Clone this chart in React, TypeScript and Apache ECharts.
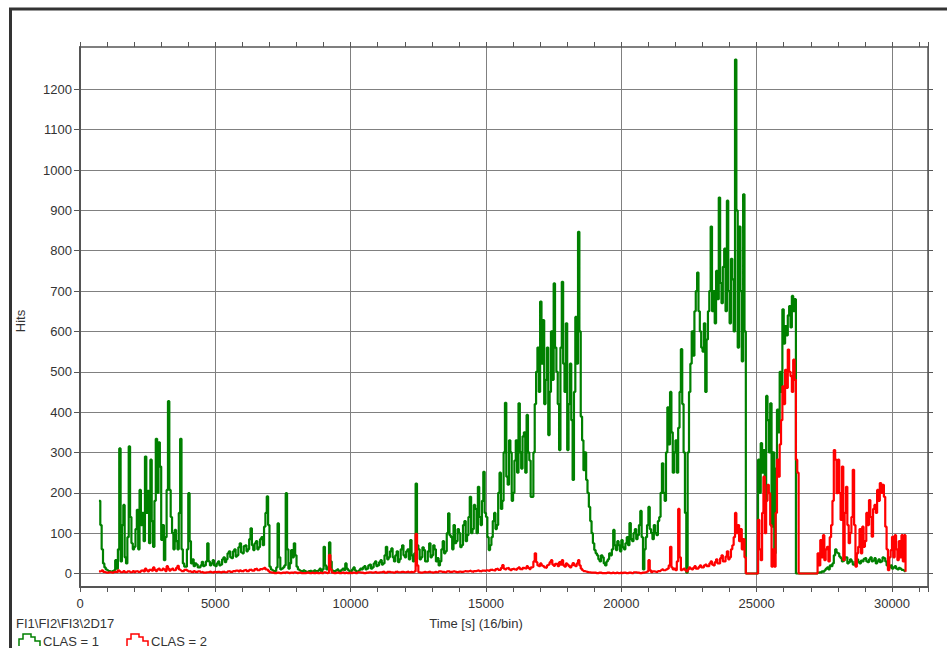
import React, { useEffect, useRef } from "react";
import * as echarts from "echarts";

// Bins: 50 s wide, first bin starts at 700 s
const BIN_START = 700;
const BIN_WIDTH = 50;

// CLAS = 1 (green) hits per bin
const clas1Hits: number[] = [
  // 700-950
  180, 120, 60, 25, 15, 10,
  // 1000s
  8, 6, 5, 4, 6, 8, 33, 12, 60, 310, 30, 120, 170, 40, 25, 90, 315, 140, 75, 60,
  // 2000s
  66, 110, 158, 60, 207, 120, 150, 80, 290, 150, 205, 75, 282, 130, 66, 180, 334, 200, 325, 265,
  // 3000s
  83, 120, 33, 90, 207, 427, 207, 140, 100, 60, 108, 80, 60, 150, 334, 60, 25, 17, 17, 60,
  // 4000s
  199, 80, 25, 35, 18, 25, 22, 15, 15, 20, 29, 18, 20, 30, 75, 30, 20, 25, 33, 20,
  // 5000s
  18, 25, 30, 20, 22, 35, 40, 28, 35, 50, 55, 40, 38, 55, 60, 42, 45, 65, 75, 52,
  // 6000s
  50, 68, 70, 55, 60, 85, 112, 70, 58, 75, 80, 60, 65, 85, 90, 70, 116, 150, 191, 120,
  // 7000s
  17, 10, 8, 6, 6, 15, 124, 40, 10, 12, 15, 20, 199, 60, 12, 25, 58, 40, 75, 45,
  // 8000s
  17, 10, 8, 6, 5, 8, 6, 4, 4, 6, 7, 5, 5, 8, 6, 5, 8, 12, 5, 10,
  // 9000s
  66, 20, 10, 15, 77, 30, 8, 6, 5, 8, 10, 6, 6, 9, 12, 8, 25, 12, 8, 5,
  // 10000s
  6, 10, 15, 8, 5, 6, 8, 12, 10, 15, 18, 10, 12, 20, 22, 12, 15, 25, 30, 18,
  // 11000s
  20, 28, 33, 22, 25, 45, 66, 35, 40, 55, 62, 40, 30, 45, 55, 28, 35, 60, 70, 45,
  // 12000s
  40, 55, 60, 35, 83, 45, 30, 50, 223, 70, 60, 35, 40, 65, 58, 30, 30, 55, 75, 40,
  // 13000s
  45, 70, 60, 30, 38, 20, 30, 60, 80, 50, 55, 100, 149, 95, 90, 60, 120, 75, 80, 110,
  // 14000s
  100, 65, 70, 120, 130, 80, 95, 140, 190, 100, 110, 170, 160, 100, 215, 140, 120, 180, 252, 150,
  // 15000s
  140, 90, 58, 70, 90, 130, 150, 110, 120, 200, 250, 160, 180, 300, 423, 240, 220, 330, 300, 180,
  // 16000s
  200, 280, 330, 250, 422, 300, 260, 340, 350, 250, 393, 300, 280, 190, 190, 300, 420, 500, 560, 450,
  // 17000s
  674, 520, 628, 420, 480, 560, 343, 450, 600, 480, 719, 560, 500, 420, 306, 560, 723, 520, 450, 620,
  // 18000s
  306, 420, 520, 380, 232, 450, 636, 520, 847, 600, 389, 330, 256, 300, 232, 200, 165, 130, 100, 75,
  // 19000s
  58, 50, 45, 35, 30, 45, 40, 25, 20, 30, 35, 50, 45, 60, 108, 70, 58, 80, 70, 55,
  // 20000s
  83, 65, 60, 75, 90, 70, 125, 85, 80, 100, 110, 85, 95, 120, 155, 90, 10, 60, 90, 120,
  // 21000s
  165, 110, 100, 85, 120, 100, 95, 130, 140, 200, 273, 200, 180, 300, 412, 320, 450, 350, 250, 300,
  // 22000s
  330, 250, 361, 450, 556, 420, 300, 150, 2, 300, 450, 520, 600, 540, 650, 700, 746, 650, 600, 560,
  // 23000s
  550, 620, 450, 580, 650, 700, 860, 650, 700, 620, 750, 680, 932, 720, 670, 760, 805, 650, 924, 700,
  // 24000s
  620, 780, 729, 600, 1274, 900, 560, 860, 700, 526, 940, 600, 0, 0, 0, 0, 0, 0, 0, 0,
  // 25000s
  0, 282, 200, 323, 250, 306, 180, 440, 380, 300, 422, 116, 300, 50, 260, 406, 350, 500, 450, 655,
  // 26000s
  570, 613, 590, 640, 663, 610, 688, 650, 680, 0, 0, 0, 0, 0, 0, 0, 0, 0, 0, 0,
  // 27000s
  0, 0, 0, 0, 0, 2, 3, 2, 5, 4, 8, 12, 15, 10, 20, 18, 25, 45, 60, 52,
  // 28000s
  50, 42, 38, 30, 32, 40, 40, 25, 28, 35, 30, 22, 22, 30, 35, 28, 25, 32, 30, 36,
  // 29000s
  38, 30, 28, 35, 40, 30, 32, 38, 25, 30, 35, 28, 30, 40, 38, 30, 20, 18, 15, 20,
  // 30000s
  12, 15, 18, 12, 10, 14, 12, 9, 8, 6, 5,
];

// CLAS = 2 (red) hits per bin
const clas2Hits: number[] = [
  // 700-950
  5, 6, 8, 4, 3, 2,
  // 1000s
  2, 3, 3, 2, 2, 4, 4, 3, 8, 5, 3, 4, 6, 3, 3, 5, 5, 3, 4, 6,
  // 2000s
  3, 5, 6, 4, 4, 7, 8, 5, 12, 8, 5, 9, 10, 7, 15, 9, 6, 10, 12, 8,
  // 3000s
  8, 12, 10, 6, 18, 12, 7, 10, 12, 8, 9, 14, 19, 10, 8, 6, 6, 9, 10, 7,
  // 4000s
  5, 6, 4, 3, 6, 4, 3, 5, 5, 3, 4, 2, 2, 3, 3, 4, 5, 3, 2, 4,
  // 5000s
  3, 4, 4, 3, 2, 4, 5, 3, 3, 5, 6, 4, 4, 6, 5, 7, 7, 5, 8, 6,
  // 6000s
  5, 8, 9, 6, 6, 9, 10, 7, 7, 11, 12, 8, 8, 11, 10, 12, 14, 10, 9, 6,
  // 7000s
  3, 2, 2, 1, 1, 2, 2, 1, 1, 2, 2, 1, 3, 2, 1, 2, 2, 1, 3, 2,
  // 8000s
  1, 2, 2, 1, 1, 1, 1, 2, 2, 1, 1, 2, 1, 1, 2, 1, 1, 2, 1, 1,
  // 9000s
  3, 2, 1, 2, 46, 10, 2, 1, 1, 2, 2, 1, 1, 2, 3, 1, 2, 1, 1, 2,
  // 10000s
  1, 2, 2, 1, 1, 3, 3, 2, 2, 1, 1, 2, 2, 3, 3, 2, 2, 3, 4, 2,
  // 11000s
  2, 3, 3, 4, 5, 2, 2, 4, 4, 3, 3, 2, 2, 4, 5, 3, 3, 4, 4, 3,
  // 12000s
  3, 4, 5, 3, 4, 3, 3, 5, 98, 20, 3, 2, 2, 3, 4, 3, 3, 4, 5, 3,
  // 13000s
  2, 3, 4, 3, 3, 5, 5, 4, 4, 3, 3, 5, 6, 4, 4, 5, 5, 4, 3, 4,
  // 14000s
  5, 4, 4, 5, 6, 5, 5, 6, 7, 5, 4, 6, 6, 7, 8, 6, 5, 7, 7, 6,
  // 15000s
  8, 7, 6, 9, 10, 8, 7, 11, 12, 9, 9, 14, 21, 12, 10, 13, 14, 10, 8, 11,
  // 16000s
  12, 10, 9, 13, 15, 11, 10, 14, 13, 12, 18, 14, 11, 15, 16, 30, 50, 28, 20, 18,
  // 17000s
  25, 20, 18, 15, 14, 20, 22, 28, 33, 22, 19, 24, 24, 18, 28, 22, 33, 20, 17, 25,
  // 18000s
  22, 18, 15, 20, 26, 20, 18, 25, 33, 20, 12, 8, 6, 5, 4, 3, 3, 2, 2, 2,
  // 19000s
  2, 1, 1, 2, 2, 1, 1, 1, 1, 2, 2, 1, 1, 2, 1, 1, 2, 1, 1, 2,
  // 20000s
  1, 2, 2, 1, 1, 2, 2, 1, 1, 3, 3, 2, 2, 1, 1, 2, 2, 3, 3, 5,
  // 21000s
  33, 8, 3, 5, 5, 4, 4, 6, 6, 8, 10, 8, 8, 10, 12, 20, 66, 15, 10, 12,
  // 22000s
  8, 30, 160, 40, 8, 10, 12, 8, 5, 10, 15, 12, 10, 14, 18, 12, 12, 16, 20, 15,
  // 23000s
  15, 20, 22, 18, 18, 25, 30, 22, 20, 28, 35, 25, 25, 38, 45, 30, 30, 42, 55, 35,
  // 24000s
  40, 60, 70, 90, 150, 100, 120, 80, 110, 60, 85, 40, 0, 0, 0, 0, 0, 0, 0, 0,
  // 25000s
  0, 133, 60, 33, 150, 240, 100, 180, 220, 199, 120, 17, 60, 17, 150, 282, 240, 320, 380, 464,
  // 26000s
  420, 505, 460, 555, 500, 489, 450, 530, 480, 282, 250, 0, 0, 0, 0, 0, 0, 0, 0, 0,
  // 27000s
  0, 0, 0, 0, 0, 50, 20, 83, 40, 95, 33, 60, 66, 30, 90, 120, 180, 306, 282, 199,
  // 28000s
  282, 199, 133, 265, 33, 150, 215, 120, 75, 100, 140, 257, 120, 17, 50, 66, 110, 50, 116, 66,
  // 29000s
  80, 150, 120, 182, 140, 91, 160, 170, 150, 207, 180, 224, 200, 220, 190, 116, 60, 8, 40, 58,
  // 30000s
  91, 40, 95, 60, 33, 80, 40, 95, 30, 95, 4,
];

const yTickValues = [0, 100, 200, 300, 400, 500, 600, 700, 800, 900, 1000, 1100, 1200];
const xLabelStep = 5000;
const xMinorStep = 1000;

const seriesNames = ["CLAS = 1", "CLAS = 2"];
const seriesColors = ["#008000", "#ff0000"];

const FONT = '"Liberation Sans", Arial, sans-serif';

export default function App() {
  const ref = useRef<HTMLDivElement>(null);

  useEffect(() => {
    if (!ref.current) return;
    const chart = echarts.init(ref.current, null, { renderer: "svg" });

    const toPairs = (vals: number[]) =>
      vals.map((v, i) => [BIN_START + i * BIN_WIDTH, v]);

    const X_MIN = 0;
    const X_MAX = 31330;
    const Y_MIN = -33.5;
    const Y_MAX = 1305;
    const axisColor = "#555555";
    const gridColor = "#808080";
    const textColor = "#333333";

    const stepIcon = (x0: number, y0: number) => [
      [x0, y0 + 13],
      [x0, y0 + 6],
      [x0 + 4, y0 + 6],
      [x0 + 4, y0 + 1],
      [x0 + 12, y0 + 1],
      [x0 + 12, y0 + 4],
      [x0 + 16, y0 + 4],
      [x0 + 16, y0 + 8],
      [x0 + 21, y0 + 8],
      [x0 + 21, y0 + 13],
    ];

    const option: any = {
      animation: false,
      backgroundColor: "#ffffff",
      grid: {
        left: 80,
        right: 19,
        top: 47,
        bottom: 61,
        containLabel: false,
        outerBoundsMode: "none",
      },
      xAxis: [
        {
          type: "value",
          position: "bottom",
          min: X_MIN,
          max: X_MAX,
          interval: xMinorStep,
          axisLine: { show: true, onZero: false, lineStyle: { color: axisColor, width: 2 } },
          axisTick: { show: true, length: 5, lineStyle: { color: axisColor, width: 1 } },
          axisLabel: {
            show: true,
            margin: 10,
            color: textColor,
            fontSize: 13,
            fontFamily: FONT,
            formatter: (v: number) => (v % xLabelStep === 0 ? String(v) : ""),
          },
          splitLine: { show: false },
        },
        {
          type: "value",
          position: "top",
          min: X_MIN,
          max: X_MAX,
          interval: xMinorStep,
          axisLine: { show: true, onZero: false, lineStyle: { color: axisColor, width: 1.5 } },
          axisTick: { show: true, length: 5, lineStyle: { color: axisColor, width: 1 } },
          axisLabel: { show: false },
          splitLine: { show: false },
        },
        {
          type: "value",
          position: "bottom",
          min: X_MIN,
          max: X_MAX,
          interval: xLabelStep,
          axisLine: { show: false },
          axisTick: { show: false },
          axisLabel: { show: false },
          splitLine: { show: true, lineStyle: { color: gridColor, width: 1 } },
        },
      ],
      yAxis: [
        {
          type: "value",
          position: "left",
          min: Y_MIN,
          max: Y_MAX,
          axisLine: { show: true, onZero: false, lineStyle: { color: axisColor, width: 2 } },
          axisTick: {
            show: true,
            length: 6,
            customValues: yTickValues,
            lineStyle: { color: axisColor, width: 1 },
          },
          axisLabel: {
            show: true,
            customValues: yTickValues,
            margin: 8,
            color: textColor,
            fontSize: 13,
            fontFamily: FONT,
            formatter: (v: number) => String(v),
          },
          splitLine: { show: true, lineStyle: { color: gridColor, width: 1 } },
        },
        {
          type: "value",
          position: "right",
          min: Y_MIN,
          max: Y_MAX,
          axisLine: { show: true, onZero: false, lineStyle: { color: axisColor, width: 1.5 } },
          axisTick: {
            show: true,
            length: 5,
            customValues: yTickValues,
            lineStyle: { color: axisColor, width: 1 },
          },
          axisLabel: { show: false },
          splitLine: { show: false },
        },
      ],
      series: [
        {
          name: seriesNames[0],
          type: "line",
          xAxisIndex: 0,
          yAxisIndex: 0,
          step: "end",
          showSymbol: false,
          symbol: "none",
          clip: true,
          lineStyle: { color: seriesColors[0], width: 2.2 },
          itemStyle: { color: seriesColors[0] },
          data: toPairs(clas1Hits),
          z: 3,
        },
        {
          name: seriesNames[1],
          type: "line",
          xAxisIndex: 0,
          yAxisIndex: 0,
          step: "end",
          showSymbol: false,
          symbol: "none",
          clip: true,
          lineStyle: { color: seriesColors[1], width: 2.2 },
          itemStyle: { color: seriesColors[1] },
          data: toPairs(clas2Hits),
          z: 4,
        },
      ],
      graphic: [
        {
          type: "rect",
          silent: true,
          shape: { x: 10.5, y: 9, width: 980, height: 700 },
          style: { fill: "none", stroke: "#333333", lineWidth: 3 },
        },
        {
          type: "text",
          x: 20,
          y: 321,
          rotation: Math.PI / 2,
          style: {
            text: "Hits",
            fill: textColor,
            font: `13px ${FONT}`,
            align: "center",
            verticalAlign: "middle",
          },
        },
        {
          type: "text",
          x: 476,
          y: 623,
          style: {
            text: "Time [s] (16/bin)",
            fill: textColor,
            font: `13px ${FONT}`,
            align: "center",
            verticalAlign: "middle",
          },
        },
        {
          type: "text",
          x: 16,
          y: 623,
          style: {
            text: "FI1\\FI2\\FI3\\2D17",
            fill: textColor,
            font: `13px ${FONT}`,
            align: "left",
            verticalAlign: "middle",
          },
        },
        {
          type: "polyline",
          silent: true,
          shape: { points: stepIcon(19, 633) },
          style: { fill: "none", stroke: seriesColors[0], lineWidth: 1.5 },
        },
        {
          type: "text",
          x: 43,
          y: 641,
          style: {
            text: seriesNames[0],
            fill: textColor,
            font: `13px ${FONT}`,
            align: "left",
            verticalAlign: "middle",
          },
        },
        {
          type: "polyline",
          silent: true,
          shape: { points: stepIcon(127, 633) },
          style: { fill: "none", stroke: seriesColors[1], lineWidth: 1.5 },
        },
        {
          type: "text",
          x: 151,
          y: 641,
          style: {
            text: seriesNames[1],
            fill: textColor,
            font: `13px ${FONT}`,
            align: "left",
            verticalAlign: "middle",
          },
        },
      ],
    };

    chart.setOption(option);
    return () => {
      chart.dispose();
    };
  }, []);

  return (
    <div
      ref={ref}
      style={{
        position: "fixed",
        left: 0,
        top: 0,
        width: 947,
        height: 648,
        background: "#ffffff",
      }}
    />
  );
}
